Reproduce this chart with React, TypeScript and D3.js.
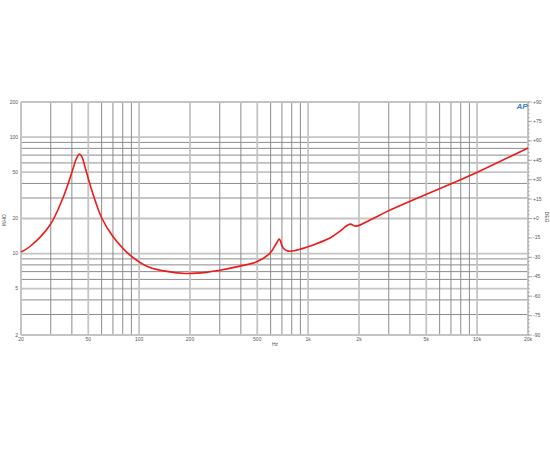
import React from "react";
import * as d3 from "d3";

const freqs = [20, 22.6, 29.7, 35.4, 39.9, 42.7, 44.3, 45.8, 47.8, 52.4, 60.1, 70, 88.3, 112.9, 140, 186.9, 250, 301, 395, 496, 595, 652, 675, 713, 763, 856, 1026, 1347, 1544, 1769, 1919, 2324, 2917, 4592, 7920, 10400, 20000];
const ohms = [10.3, 11.5, 17.6, 30.0, 49.2, 66.1, 71.5, 68.0, 55.7, 35.1, 20.2, 14.0, 9.7, 7.7, 7.1, 6.75, 6.9, 7.2, 7.8, 8.5, 10.1, 12.4, 13.3, 11.1, 10.5, 10.7, 11.6, 13.6, 15.6, 17.9, 17.2, 19.4, 22.9, 30.6, 42.8, 51.1, 80.6];

const xTickValues = [20, 50, 100, 200, 500, 1000, 2000, 5000, 10000, 20000];
const xTickLabels = ["20", "50", "100", "200", "500", "1k", "2k", "5k", "10k", "20k"];
const yTickValues = [200, 100, 50, 20, 10, 5, 2];
const yTickLabels = ["200", "100", "50", "20", "10", "5", "2"];
const degTicks = [90, 75, 60, 45, 30, 15, 0, -15, -30, -45, -60, -75, -90];

const L = 21, R = 528, T = 102, B = 335;

export default function App() {
  const x = d3.scaleLog().domain([20, 20000]).range([L, R]);
  const y = d3.scaleLog().domain([2, 200]).range([B, T]);
  const yDeg = d3.scaleLinear().domain([-90, 90]).range([B, T]);

  const xGrid: number[] = [];
  [10, 100, 1000, 10000].forEach((dec) => {
    for (let k = 1; k <= 9; k++) {
      const v = dec * k;
      if (v >= 20 && v <= 20000) xGrid.push(v);
    }
  });
  xGrid.push(20000);
  const yGrid: number[] = [];
  [1, 10, 100].forEach((dec) => {
    for (let k = 1; k <= 9; k++) {
      const v = dec * k;
      if (v >= 2 && v <= 200) yGrid.push(v);
    }
  });

  const xMajor = new Set(xTickValues);
  const yMajor = new Set(yTickValues);

  const line = d3
    .line<number>()
    .x((_, i) => x(freqs[i]))
    .y((d) => y(d))
    .curve(d3.curveCatmullRom.alpha(0.5));

  const minor: number[] = [];
  for (let v = -90; v <= 90; v += 3) minor.push(v);

  const font = "Arial, 'Liberation Sans', sans-serif";
  const txt = "#555";

  return (
    <svg width={550} height={450} style={{ position: "absolute", left: 0, top: 0, background: "#fff" }}>
      {yGrid.map((v) => (
        <line key={"hy" + v} x1={L} x2={R} y1={y(v)} y2={y(v)}
          stroke={yMajor.has(v) ? "#c4c4c4" : "#8c8c8c"} strokeWidth={yMajor.has(v) ? 1.8 : 1} />
      ))}
      {xGrid.map((v) => (
        <line key={"vx" + v} x1={x(v)} x2={x(v)} y1={T} y2={B}
          stroke={xMajor.has(v) ? "#c4c4c4" : "#8c8c8c"} strokeWidth={xMajor.has(v) ? 1.8 : 1} />
      ))}
      <line x1={L} x2={R} y1={T} y2={T} stroke="#c4c4c4" strokeWidth={1.8} />
      <line x1={L} x2={R} y1={B} y2={B} stroke="#c4c4c4" strokeWidth={1.8} />
      <line x1={L} x2={L} y1={T} y2={B} stroke="#c4c4c4" strokeWidth={1.8} />
      <line x1={R} x2={R} y1={T} y2={B} stroke="#c4c4c4" strokeWidth={1.8} />
      {minor.map((v) => (
        <line key={"mt" + v} x1={R} x2={R + 2} y1={yDeg(v)} y2={yDeg(v)} stroke="#999" strokeWidth={0.6} />
      ))}
      {degTicks.map((v) => (
        <line key={"dt" + v} x1={R} x2={R + 4} y1={yDeg(v)} y2={yDeg(v)} stroke="#999" strokeWidth={0.8} />
      ))}
      <path d={line(ohms) || ""} fill="none" stroke="#f01818" strokeWidth={1.6} />
      {yTickValues.map((v, i) => (
        <text key={"yl" + v} x={18} y={y(v) + 1.5} textAnchor="end" fontSize={5} fill={txt} fontFamily={font}>
          {yTickLabels[i]}
        </text>
      ))}
      {xTickValues.map((v, i) => (
        <text key={"xl" + v} x={x(v)} y={341} textAnchor="middle" fontSize={5} fill={txt} fontFamily={font}>
          {xTickLabels[i]}
        </text>
      ))}
      {degTicks.map((v) => (
        <text key={"dl" + v} x={533} y={yDeg(v) + 1.5} textAnchor="start" fontSize={5} fill={txt} fontFamily={font}>
          {v > 0 ? "+" + v : v === 0 ? "+0" : String(v)}
        </text>
      ))}
      <text x={275} y={346} textAnchor="middle" fontSize={5} fill={txt} fontFamily={font}>Hz</text>
      <text transform="translate(2,220) rotate(90)" textAnchor="middle" fontSize={5} fill={txt} fontFamily={font}>OHM</text>
      <text transform="translate(545,217) rotate(90)" textAnchor="middle" fontSize={5} fill={txt} fontFamily={font}>DEG</text>
      <text x={522} y={109} textAnchor="middle" fontSize={8} fontStyle="italic" fontWeight="bold" fill="#3a7fc4" fontFamily={font}>AP</text>
    </svg>
  );
}
